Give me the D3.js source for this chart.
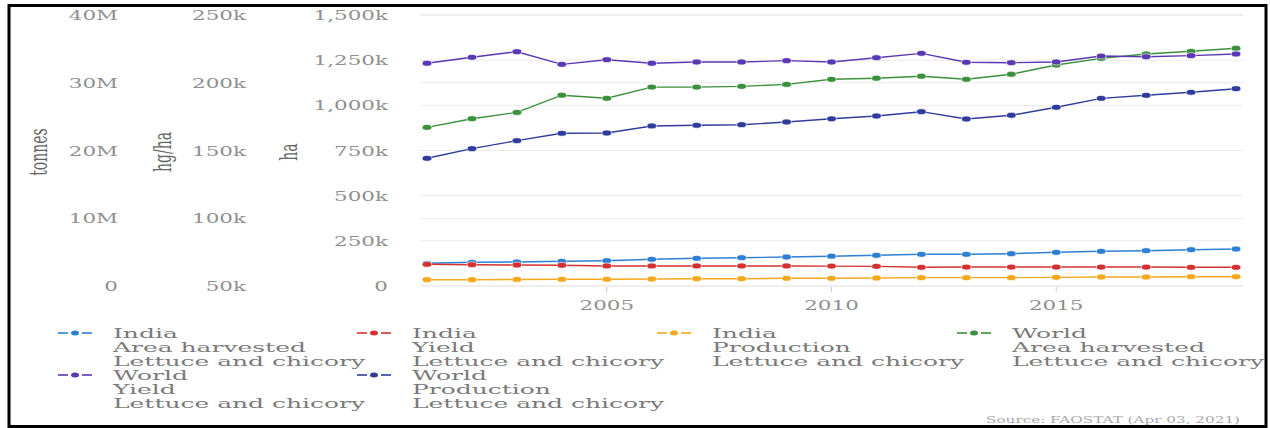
<!DOCTYPE html>
<html><head><meta charset="utf-8">
<script src="https://cdn.jsdelivr.net/npm/d3@7"></script>
<style>
html,body{margin:0;padding:0;background:#fff;}
svg{display:block;}
text{font-family:"DejaVu Serif",serif;}
</style></head>
<body>
<svg id="chart" width="1270" height="428"></svg>
<script>
const years = d3.range(2001, 2020);
const indiaArea = [125.6,131.2,132.8,136.7,140.0,147.8,153.3,156.6,160.5,165.0,169.9,175.5,175.5,178.8,186.5,192.1,195.4,200.9,204.8].map(v=>v*1000);
const indiaYield = [66.0,65.7,65.5,65.3,64.8,64.8,64.8,64.8,64.8,64.7,64.5,63.8,64.0,64.0,64.0,64.0,64.0,63.8,63.8].map(v=>v*1000);
const indiaProd = [0.93,0.93,0.97,0.99,0.99,1.03,1.08,1.08,1.14,1.14,1.18,1.23,1.23,1.23,1.28,1.33,1.33,1.37,1.37].map(v=>v*1e6);
const worldArea = [878,926,961,1056,1039,1101,1101,1105,1116,1144,1150,1161,1144,1172,1223,1260,1284,1299,1316].map(v=>v*1000);
const worldYield = [214.4,218.8,222.9,213.6,217.0,214.4,215.3,215.3,216.3,215.3,218.5,221.7,215.1,214.8,215.3,219.7,219.2,220.0,221.2].map(v=>v*1000);
const worldProd = [18.85,20.27,21.45,22.54,22.58,23.62,23.72,23.81,24.21,24.68,25.09,25.73,24.65,25.20,26.38,27.70,28.15,28.59,29.12].map(v=>v*1e6);

const tonnesTicks = [0,10e6,20e6,30e6,40e6];
const tonnesLabels = ["0","10M","20M","30M","40M"];
const hghaTicks = [50e3,100e3,150e3,200e3,250e3];
const hghaLabels = ["50k","100k","150k","200k","250k"];
const haTicks = [0,250e3,500e3,750e3,1000e3,1250e3,1500e3];
const haLabels = ["0","250k","500k","750k","1,000k","1,250k","1,500k"];
const xTicks = [2005,2010,2015];

const seriesNames = [
  ["India","Area harvested","Lettuce and chicory"],
  ["India","Yield","Lettuce and chicory"],
  ["India","Production","Lettuce and chicory"],
  ["World","Area harvested","Lettuce and chicory"],
  ["World","Yield","Lettuce and chicory"],
  ["World","Production","Lettuce and chicory"]
];
const seriesColors = ["#2d7fd3","#d3312f","#f6a71c","#3b913b","#5b37b2","#2f3c9c"];
const seriesValues = [indiaArea, indiaYield, indiaProd, worldArea, worldYield, worldProd];
const seriesAxis = ["ha","hgha","tonnes","ha","hgha","tonnes"];

const SX = 1.79; // horizontal stretch of the picture
const svg = d3.select("#chart");
const plotTop = 15, plotBottom = 286, plotLeft = 420, plotRight = 1243;

const x = d3.scaleLinear().domain([2001, 2019]).range([427, 1236]);
const yScales = {
  tonnes: d3.scaleLinear().domain([0, 40e6]).range([plotBottom, plotTop]),
  hgha: d3.scaleLinear().domain([50e3, 250e3]).range([plotBottom, plotTop]),
  ha: d3.scaleLinear().domain([0, 1500e3]).range([plotBottom, plotTop])
};

// frame
svg.append("rect").attr("x",9).attr("y",5.5).attr("width",1257).attr("height",421)
  .attr("fill","none").attr("stroke","#000").attr("stroke-width",3);

// gridlines
const gridVals = [...tonnesTicks.map(v=>yScales.tonnes(v)), ...haTicks.map(v=>yScales.ha(v))];
svg.append("g").selectAll("line").data(gridVals).join("line")
  .attr("x1",plotLeft).attr("x2",plotRight).attr("y1",d=>d).attr("y2",d=>d)
  .attr("stroke","#e9e9e9").attr("stroke-width",1);

function stretchedText(g, tx, ty, str, size, anchor, fill, sx){
  return g.append("text").attr("transform",`translate(${tx},${ty}) scale(${sx||SX},1)`)
    .attr("font-size",size).attr("text-anchor",anchor).attr("fill",fill).text(str);
}

// y axes labels
const axG = svg.append("g");
tonnesTicks.forEach((v,i)=> stretchedText(axG, 118, yScales.tonnes(v)+5, tonnesLabels[i], 12, "end", "#8f8f8f"));
hghaTicks.forEach((v,i)=> stretchedText(axG, 246, yScales.hgha(v)+5, hghaLabels[i], 12, "end", "#8f8f8f"));
haTicks.forEach((v,i)=> stretchedText(axG, 388, yScales.ha(v)+5, haLabels[i], 12, "end", "#8f8f8f"));

// axis titles (rotated, Times-like)
[["tonnes",47],["hg/ha",171],["ha",297]].forEach(([t,px])=>{
  axG.append("text").attr("transform",`translate(${px},152) scale(${SX},1) rotate(-90)`)
    .attr("font-family","Liberation Serif").attr("font-size",14).attr("text-anchor","middle")
    .attr("fill","#666").text(t);
});

// x axis ticks
const xg = svg.append("g");
xg.selectAll("line").data(xTicks).join("line")
  .attr("x1",d=>x(d)).attr("x2",d=>x(d)).attr("y1",plotBottom+1).attr("y2",plotBottom+6)
  .attr("stroke","#ccc").attr("stroke-width",1);
xTicks.forEach(t=> stretchedText(xg, x(t), 310, String(t), 12, "middle", "#8f8f8f"));

// series
const line = d3.line();
seriesValues.forEach((vals, si)=>{
  const ys = yScales[seriesAxis[si]];
  const pts = years.map((yr,i)=>[x(yr), ys(vals[i])]);
  const g = svg.append("g");
  g.append("path").attr("d", line(pts)).attr("fill","none")
    .attr("stroke", seriesColors[si]).attr("stroke-width",1.4);
  g.selectAll("ellipse").data(pts).join("ellipse")
    .attr("cx",d=>d[0]).attr("cy",d=>d[1]).attr("rx",4.8).attr("ry",2.9)
    .attr("fill",seriesColors[si]).attr("stroke","#fff").attr("stroke-width",0.6);
});

// legend
const legG = svg.append("g");
const colX = [58, 357, 657, 957];
const rowY = [333, 375];
seriesNames.forEach((lines, i)=>{
  const cx = colX[i % 4], cy = rowY[Math.floor(i / 4)];
  const c = seriesColors[i];
  legG.append("line").attr("x1",cx).attr("x2",cx+10).attr("y1",cy).attr("y2",cy).attr("stroke",c).attr("stroke-width",1.6);
  legG.append("line").attr("x1",cx+24).attr("x2",cx+34).attr("y1",cy).attr("y2",cy).attr("stroke",c).attr("stroke-width",1.6);
  legG.append("ellipse").attr("cx",cx+17).attr("cy",cy).attr("rx",4).attr("ry",2.5).attr("fill",c);
  lines.forEach((t, li)=> stretchedText(legG, cx+55, cy+5+li*14.1, t, 13.5, "start", "#7a7a7a", 1.85));
});

// source
stretchedText(svg, 1240, 423, "Source: FAOSTAT (Apr 03, 2021)", 8.5, "end", "#a8a8a8");
</script>
</body></html>
